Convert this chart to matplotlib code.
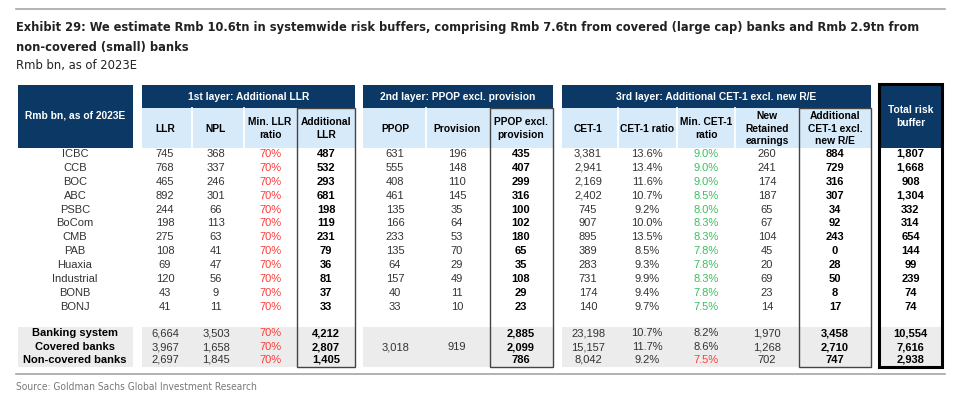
import matplotlib
matplotlib.use("Agg")
import matplotlib.pyplot as plt
from matplotlib.patches import Rectangle
from matplotlib import font_manager

banks = ["ICBC", "CCB", "BOC", "ABC", "PSBC", "BoCom", "CMB", "PAB",
         "Huaxia", "Industrial", "BONB", "BONJ"]
llr = [745, 768, 465, 892, 244, 198, 275, 108, 69, 120, 43, 41]
npl = [368, 337, 246, 301, 66, 113, 63, 41, 47, 56, 9, 11]
min_llr_ratio = [70] * 12
add_llr = [487, 532, 293, 681, 198, 119, 231, 79, 36, 81, 37, 33]
ppop = [631, 555, 408, 461, 135, 166, 233, 135, 64, 157, 40, 33]
provision = [196, 148, 110, 145, 35, 64, 53, 70, 29, 49, 11, 10]
ppop_excl = [435, 407, 299, 316, 100, 102, 180, 65, 35, 108, 29, 23]
cet1 = [3381, 2941, 2169, 2402, 745, 907, 895, 389, 283, 731, 174, 140]
cet1_ratio = [13.6, 13.4, 11.6, 10.7, 9.2, 10.0, 13.5, 8.5, 9.3, 9.9, 9.4, 9.7]
min_cet1_ratio = [9.0, 9.0, 9.0, 8.5, 8.0, 8.3, 8.3, 7.8, 7.8, 8.3, 7.8, 7.5]
new_re = [260, 241, 174, 187, 65, 67, 104, 45, 20, 69, 23, 14]
add_cet1 = [884, 729, 316, 307, 34, 92, 243, 0, 28, 50, 8, 17]
total_buffer = [1807, 1668, 908, 1304, 332, 314, 654, 144, 99, 239, 74, 74]

groups = ["Banking system", "Covered banks", "Non-covered banks"]
g_llr = [6664, 3967, 2697]
g_npl = [3503, 1658, 1845]
g_min_llr_ratio = [70, 70, 70]
g_add_llr = [4212, 2807, 1405]
g_ppop = [None, 3018, None]
g_provision = [None, 919, None]
g_ppop_excl = [2885, 2099, 786]
g_cet1 = [23198, 15157, 8042]
g_cet1_ratio = [10.7, 11.7, 9.2]
g_min_cet1_ratio = [8.2, 8.6, 7.5]
g_new_re = [1970, 1268, 702]
g_add_cet1 = [3458, 2710, 747]
g_total_buffer = [10554, 7616, 2938]


def narrow_props(weight):
    # prefer a condensed face for the title, like the original
    for fam, stretch in [("Liberation Sans Narrow", "normal"),
                         ("DejaVu Sans", "condensed")]:
        fp = font_manager.FontProperties(family=fam, stretch=stretch, weight=weight)
        try:
            path = font_manager.findfont(fp, fallback_to_default=False)
        except Exception:
            continue
        if "Narrow" in path or "Condensed" in path:
            return font_manager.FontProperties(fname=path)
    return font_manager.FontProperties(family="Liberation Sans", weight=weight)


TITLE_FP = narrow_props("bold")
SUB_FP = narrow_props("normal")
SANS = "Liberation Sans"

DARK = "#0b3864"
LIGHT = "#d7eaf9"
GRAY = "#ececec"
TXT = "#333333"
RED = "#ff3b3b"
GREEN = "#3cc060"
HEAD_FS = 7.4

fig = plt.figure(figsize=(9.6, 4.07), dpi=100)
ax = fig.add_axes([0, 0, 1, 1])
ax.set_xlim(0, 960)
ax.set_ylim(407, 0)
ax.axis("off")
fig.canvas.draw()
renderer = fig.canvas.get_renderer()


def fit(t, width):
    bb = t.get_window_extent(renderer)
    t.set_fontsize(t.get_fontsize() * width / bb.width)


# title block
ax.plot([16, 945], [9, 9], color="#a6a6a6", lw=1.2)
t1 = ax.text(16, 28, "Exhibit 29: We estimate Rmb 10.6tn in systemwide risk buffers, comprising "
             "Rmb 7.6tn from covered (large cap) banks and Rmb 2.9tn from",
             fontproperties=TITLE_FP, fontsize=12.5, color="#222222", va="center")
fit(t1, 900)
ax.text(16, 47, "non-covered (small) banks", fontproperties=TITLE_FP,
        fontsize=t1.get_fontsize(), color="#222222", va="center")
t3 = ax.text(16, 65, "Rmb bn, as of 2023E", fontproperties=SUB_FP, fontsize=11,
             color="#222222", va="center")
fit(t3, 121)

# layout
top, band_bot, head_bot = 85, 108, 148
row_y0, row_dy = 154, 13.9
grp_top, grp_bot = 327, 367
grp_y = [333, 347, 360]

blocks = [(18, 133), (142, 355), (363, 553), (562, 871), (879, 942)]
titles = ["1st layer: Additional LLR", "2nd layer: PPOP excl. provision",
          "3rd layer: Additional CET-1 excl. new R/E"]

# left header
ax.add_patch(Rectangle((18, top), 115, head_bot - top, color=DARK, lw=0))
ax.text(75.5, 115, "Rmb bn, as of 2023E", family=SANS, weight="bold",
        fontsize=HEAD_FS, color="white", ha="center", va="center")

for (x0, x1), title in zip(blocks[1:4], titles):
    ax.add_patch(Rectangle((x0, top), x1 - x0, band_bot - top, color=DARK, lw=0))
    ax.add_patch(Rectangle((x0, band_bot), x1 - x0, head_bot - band_bot, color=LIGHT, lw=0))
    ax.text((x0 + x1) / 2, 96.5, title, family=SANS, weight="bold", fontsize=HEAD_FS,
            color="white", ha="center", va="center")

# grey summary bands
for x0, x1 in blocks:
    ax.add_patch(Rectangle((x0, grp_top), x1 - x0, grp_bot - grp_top, color=GRAY, lw=0))

# column definitions: (center, header, values, group values, fmt, color, bold)
pct0 = lambda v: f"{v:.0f}%"
pct1 = lambda v: f"{v:.1f}%"
num = lambda v: f"{v:,}"
cols = [
    (165, "LLR", llr, g_llr, num, TXT, False),
    (216, "NPL", npl, g_npl, num, TXT, False),
    (270, "Min. LLR\nratio", min_llr_ratio, g_min_llr_ratio, pct0, RED, False),
    (326, "Additional\nLLR", add_llr, g_add_llr, num, "black", True),
    (395, "PPOP", ppop, g_ppop, num, TXT, False),
    (457, "Provision", provision, g_provision, num, TXT, False),
    (521, "PPOP excl.\nprovision", ppop_excl, g_ppop_excl, num, "black", True),
    (588, "CET-1", cet1, g_cet1, num, TXT, False),
    (647, "CET-1 ratio", cet1_ratio, g_cet1_ratio, pct1, TXT, False),
    (706, "Min. CET-1\nratio", min_cet1_ratio, g_min_cet1_ratio, pct1, GREEN, False),
    (767, "New\nRetained\nearnings", new_re, g_new_re, num, TXT, False),
    (835, "Additional\nCET-1 excl.\nnew R/E", add_cet1, g_add_cet1, num, "black", True),
]

# white separators in sub-header
for xs in [192, 244, 426, 618, 677, 735]:
    ax.plot([xs, xs], [band_bot, head_bot], color="white", lw=1.3)

for cx, head, vals, gvals, fmt, col, bold in cols:
    ax.text(cx, 128.5, head, family=SANS, weight="bold", fontsize=HEAD_FS, color="black",
            ha="center", va="center", linespacing=1.35)
    w = "bold" if bold else "normal"
    for i, v in enumerate(vals):
        ax.text(cx, row_y0 + i * row_dy, fmt(v), family=SANS, weight=w, fontsize=8,
                color=col, ha="center", va="center")
    for i, v in enumerate(gvals):
        if v is None:
            continue
        c = col
        if col == GREEN:
            c = RED if i == 2 else TXT
        ax.text(cx, grp_y[i], fmt(v), family=SANS, weight=w, fontsize=8,
                color=c, ha="center", va="center")

# row labels
for i, b in enumerate(banks):
    ax.text(75, row_y0 + i * row_dy, b, family=SANS, fontsize=8, color=TXT,
            ha="center", va="center")
for i, g in enumerate(groups):
    ax.text(75, grp_y[i], g, family=SANS, weight="bold", fontsize=8, color="black",
            ha="center", va="center")

# total column
ax.add_patch(Rectangle((879, top), 63, head_bot - top, color=DARK, lw=0))
ax.text(910.5, 116.5, "Total risk\nbuffer", family=SANS, weight="bold", fontsize=HEAD_FS,
        color="white", ha="center", va="center", linespacing=1.35)
for i, v in enumerate(total_buffer):
    ax.text(910.5, row_y0 + i * row_dy, num(v), family=SANS, weight="bold", fontsize=8,
            color="black", ha="center", va="center")
for i, v in enumerate(g_total_buffer):
    ax.text(910.5, grp_y[i], num(v), family=SANS, weight="bold", fontsize=8,
            color="black", ha="center", va="center")
ax.add_patch(Rectangle((879, 84), 63, grp_bot - 84, fill=False, ec="black", lw=2.2))

# boxes around result columns
for x0, x1 in [(297, 355), (490, 553), (799, 871)]:
    ax.add_patch(Rectangle((x0, band_bot), x1 - x0, grp_bot - band_bot, fill=False,
                           ec="#444444", lw=1.0))

# footer
ax.plot([16, 945], [374, 374], color="#a6a6a6", lw=1.2)
t4 = ax.text(16, 387, "Source: Goldman Sachs Global Investment Research",
             fontproperties=SUB_FP, fontsize=9, color="#777777", va="center")
fit(t4, 241)

fig.savefig("out.png", dpi=100)
